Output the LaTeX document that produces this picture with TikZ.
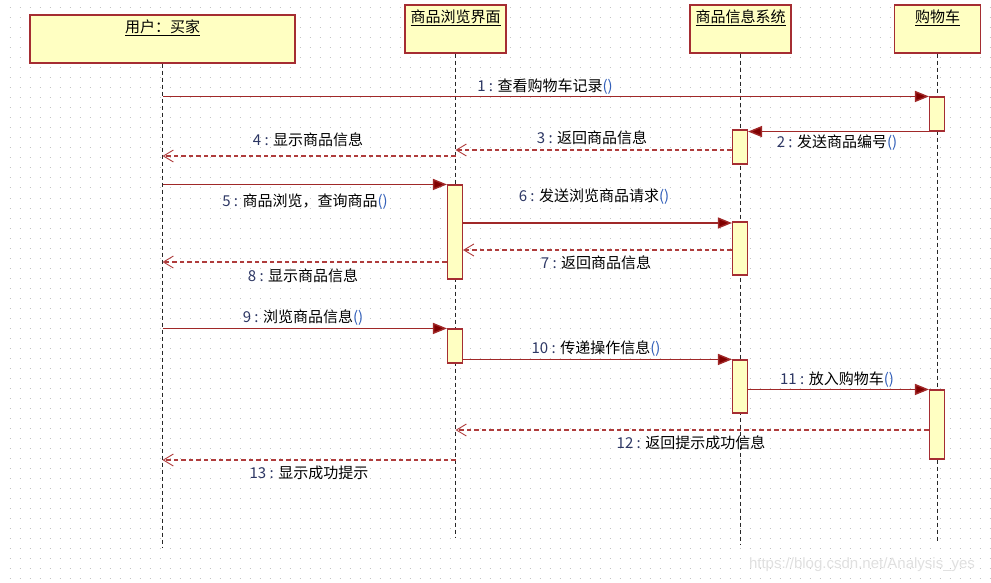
\documentclass[tikz,border=0pt]{standalone}
\usepackage{fontspec}
\setmainfont{Noto Sans CJK SC}
\newfontfamily\wmfont{Liberation Sans}
\usetikzlibrary{arrows.meta}
\definecolor{boxfill}{RGB}{255,255,194}
\definecolor{boxborder}{RGB}{165,45,50}
\definecolor{msgcol}{RGB}{160,40,40}
\definecolor{tipcol}{RGB}{128,0,0}
\definecolor{retcol}{RGB}{175,60,60}
\definecolor{numc}{RGB}{45,55,100}
\definecolor{parc}{RGB}{50,95,185}
\definecolor{dotc}{RGB}{195,195,195}
\newcommand\mnum[1]{\textcolor{numc}{#1 : }}
\newcommand\mpar{\textcolor{parc}{()}}
\begin{document}
\begin{tikzpicture}[x=1pt,y=-1pt,
  font=\fontsize{15}{17}\selectfont,
  obj/.style={draw=boxborder, fill=boxfill, line width=1.4pt, inner sep=0pt, minimum height=48pt},
  objlabel/.style={anchor=north, inner sep=0pt},
  act/.style={draw=boxborder, fill=boxfill, line width=1.1pt, inner sep=0pt, minimum width=15pt},
  lifeline/.style={draw=black!85, line width=1.3pt, dash pattern=on 4pt off 3pt},
  msg/.style={draw=msgcol, line width=1.4pt, -{Triangle[length=14pt,width=11pt,fill=tipcol]}},
  ret/.style={draw=retcol, line width=1.3pt, dash pattern=on 4.5pt off 3pt, -{Straight Barb[length=10pt,width=12pt,line width=0.9pt]}},
  mlabel/.style={inner sep=0pt, text=black},
  griddot/.style={draw=dotc, line width=1pt, dash pattern=on 1pt off 9pt}
]
\useasboundingbox (0,0) rectangle (991,583);
\fill[white] (0,0) rectangle (991,583);
\foreach \yy in {8,18,...,578} \draw[griddot] (9.5,\yy) -- (991,\yy);

% objects
\node[obj, minimum width=265pt] (user) at (162.5,39) {};
\node[objlabel] (userL) at (162.5,20) {\underline{用户：买家}};
\node[obj, minimum width=101pt] (ui) at (455.5,29) {};
\node[objlabel] (uiL) at (455.5,10) {\underline{商品浏览界面}};
\node[obj, minimum width=101pt] (sys) at (740.5,29) {};
\node[objlabel] (sysL) at (740.5,10) {\underline{商品信息系统}};
\node[obj, minimum width=86pt] (cart) at (937.5,29) {};
\node[objlabel] (cartL) at (937.5,10) {\underline{购物车}};

% lifeline ends
\coordinate (userE) at (162.5,548);
\coordinate (uiE) at (455.5,538);
\coordinate (sysE) at (740.5,545);
\coordinate (cartE) at (937.5,543);
\draw[lifeline] (user.south) -- (userE);
\draw[lifeline] (ui.south) -- (uiE);
\draw[lifeline] (sys.south) -- (sysE);
\draw[lifeline] (cart.south) -- (cartE);

% activations
\node[act, minimum height=34pt] (cartA) at (937,114) {};
\node[act, minimum height=34pt] (sysA) at (740,147) {};
\node[act, minimum height=94pt] (uiA) at (455,232) {};
\node[act, minimum height=53pt] (sysB) at (740,248.5) {};
\node[act, minimum height=34pt] (uiB) at (455,346) {};
\node[act, minimum height=53pt] (sysC) at (740,386.5) {};
\node[act, minimum height=69pt] (cartB) at (937,424.5) {};

% messages
\draw[msg] (user.south |- cartA.north west) -- (cartA.north west);
\draw[msg] (cartA.south west) -- (sysA.east |- cartA.south west);
\draw[ret] (sysA.west |- 0,150) -- (ui.south |- 0,150);
\draw[ret] (ui.south |- 0,156) -- (user.south |- 0,156);
\draw[msg] (user.south |- uiA.north west) -- (uiA.north west);
\draw[msg] (uiA.east |- 0,223) -- (sysB.west |- 0,223);
\draw[ret] (sysB.west |- 0,250) -- (uiA.east |- 0,250);
\draw[ret] (uiA.west |- 0,262) -- (user.south |- 0,262);
\draw[msg] (user.south |- uiB.north west) -- (uiB.north west);
\draw[msg] (uiB.east |- sysC.north) -- (sysC.north west);
\draw[msg] (sysC.east |- cartB.north) -- (cartB.north west);
\draw[ret] (cartB.west |- 0,430) -- (ui.south |- 0,430);
\draw[ret] (ui.south |- 0,460) -- (user.south |- 0,460);

% labels
\node[mlabel] (l1) at (545,87) {\mnum{1}查看购物车记录\mpar};
\node[mlabel] (l2) at (837,143) {\mnum{2}发送商品编号\mpar};
\node[mlabel] (l3) at (592,138) {\mnum{3}返回商品信息};
\node[mlabel] (l4) at (308,140) {\mnum{4}显示商品信息};
\node[mlabel] (l5) at (305,202) {\mnum{5}商品浏览，查询商品\mpar};
\node[mlabel] (l6) at (594,197) {\mnum{6}发送浏览商品请求\mpar};
\node[mlabel] (l7) at (596,263) {\mnum{7}返回商品信息};
\node[mlabel] (l8) at (303,276) {\mnum{8}显示商品信息};
\node[mlabel] (l9) at (303,318) {\mnum{9}浏览商品信息\mpar};
\node[mlabel] (l10) at (596,349) {\mnum{10}传递操作信息\mpar};
\node[mlabel] (l11) at (837,380) {\mnum{11}放入购物车\mpar};
\node[mlabel] (l12) at (691,443) {\mnum{12}返回提示成功信息};
\node[mlabel] (l13) at (309,473) {\mnum{13}显示成功提示};

\node[inner sep=0pt, text=black!12, font=\wmfont\fontsize{15}{17}\selectfont] (wm) at (862,565) {https://blog.csdn.net/Analysis\_yes};
\end{tikzpicture}
\end{document}
